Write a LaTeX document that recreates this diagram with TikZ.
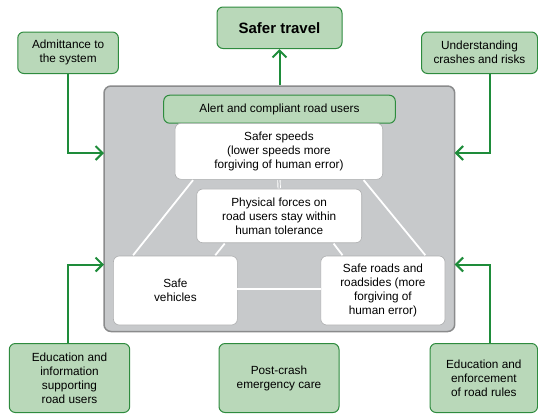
\documentclass[tikz,border=0pt]{standalone}
\usepackage{fontspec}
\setmainfont{Liberation Sans}
\usetikzlibrary{arrows.meta}
\definecolor{gboxfill}{HTML}{B9D8B9}
\definecolor{gboxdraw}{HTML}{2E8B3E}
\definecolor{garrow}{HTML}{1E8C3A}
\definecolor{panelfill}{HTML}{C7C9CB}
\definecolor{paneldraw}{HTML}{8A8B8C}
\tikzset{
  gbox/.style={draw=gboxdraw, fill=gboxfill, line width=1pt, rounded corners=6pt,
    align=center, inner sep=0pt, font=\fontsize{11.8}{14}\selectfont},
  wbox/.style={draw=paneldraw!70, fill=white, line width=0.6pt, rounded corners=6pt,
    align=center, inner sep=0pt, font=\fontsize{11.8}{14}\selectfont},
  garr/.style={draw=garrow, line width=2pt, -{Straight Barb[length=7pt,width=14pt,line width=2pt]}},
  link/.style={draw=white, line width=1.8pt},
  dlink/.style={draw=white, line width=0.9pt, double=panelfill, double distance=1.5pt},
}
\begin{document}
\begin{tikzpicture}[x=1pt,y=-1pt]
\useasboundingbox (0,0) rectangle (538,413);
% panel
\node[draw=paneldraw, fill=panelfill, line width=1.5pt, rounded corners=7pt,
  minimum width=350.7pt, minimum height=245.5pt, inner sep=0pt] (panel) at (279.35,208.75) {};
% top and side boxes
\node[gbox, minimum width=125pt, minimum height=41.5pt, font=\fontsize{15}{17}\selectfont\bfseries] (travel) at (279.5,27.75) {Safer travel};
\node[gbox, minimum width=100.6pt, minimum height=41.5pt] (admit) at (68.1,52.75) {Admittance to\\the system};
\node[gbox, minimum width=116pt, minimum height=41.5pt] (underst) at (479.5,52.75) {Understanding\\crashes and risks};
\node[gbox, minimum width=120.4pt, minimum height=69pt] (edleft) at (69.5,378) {Education and\\information\\supporting\\road users};
\node[gbox, minimum width=120pt, minimum height=69pt] (post) at (279,378) {Post-crash\\emergency care};
\node[gbox, minimum width=107.5pt, minimum height=69pt] (edright) at (483.8,378) {Education and\\enforcement\\of road rules};
% inner boxes
\node[gbox, minimum width=231.6pt, minimum height=28pt] (alert) at (279.5,109.2) {Alert and compliant road users};
\node[wbox, minimum width=207.7pt, minimum height=56pt] (speeds) at (278.9,151.3) {Safer speeds\\(lower speeds more\\forgiving of human error)};
\node[wbox, minimum width=165pt, minimum height=53.7pt] (forces) at (279.2,215.9) {Physical forces on\\road users stay within\\human tolerance};
\node[wbox, minimum width=124pt, minimum height=69pt] (vehicles) at (175.4,290.5) {Safe\\vehicles};
\node[wbox, minimum width=124.2pt, minimum height=69pt] (roads) at (382.9,290.5) {Safe roads and\\roadsides (more\\forgiving of\\human error)};
% white links
\draw[link] ([xshift=18.3pt,yshift=-0.5pt]speeds.south west) -- ([xshift=20pt,yshift=0.5pt]vehicles.north west);
\draw[dlink] ([yshift=-0.5pt]speeds.south) -- ([yshift=0.5pt]forces.north);
\draw[link] ([xshift=28.3pt,yshift=-0.5pt]forces.south west) -- ([xshift=-22.4pt,yshift=0.5pt]vehicles.north east);
\draw[link] ([xshift=-28.4pt,yshift=-0.5pt]forces.south east) -- ([xshift=22pt,yshift=0.5pt]roads.north west);
\draw[link] ([xshift=-19.4pt,yshift=-0.5pt]speeds.south east) -- ([xshift=-20pt,yshift=0.5pt]roads.north east);
\draw[link] ([xshift=-0.5pt,yshift=1.2pt]vehicles.east) -- ([xshift=0.5pt,yshift=1.2pt]roads.west);
% green arrows
\coordinate (pl1) at (104,153);
\coordinate (pl2) at (104,264.5);
\coordinate (pr1) at (454.7,153);
\coordinate (pr2) at (454.7,264.5);
\draw[garr] (panel.north -| travel.south) -- (travel.south);
\draw[garr] (admit.south) |- (pl1);
\draw[garr] ([xshift=10.2pt]underst.south) |- (pr1);
\draw[garr] ([xshift=-1.5pt]edleft.north) |- (pl2);
\draw[garr] ([xshift=5.9pt]edright.north) |- (pr2);
\end{tikzpicture}
\end{document}
